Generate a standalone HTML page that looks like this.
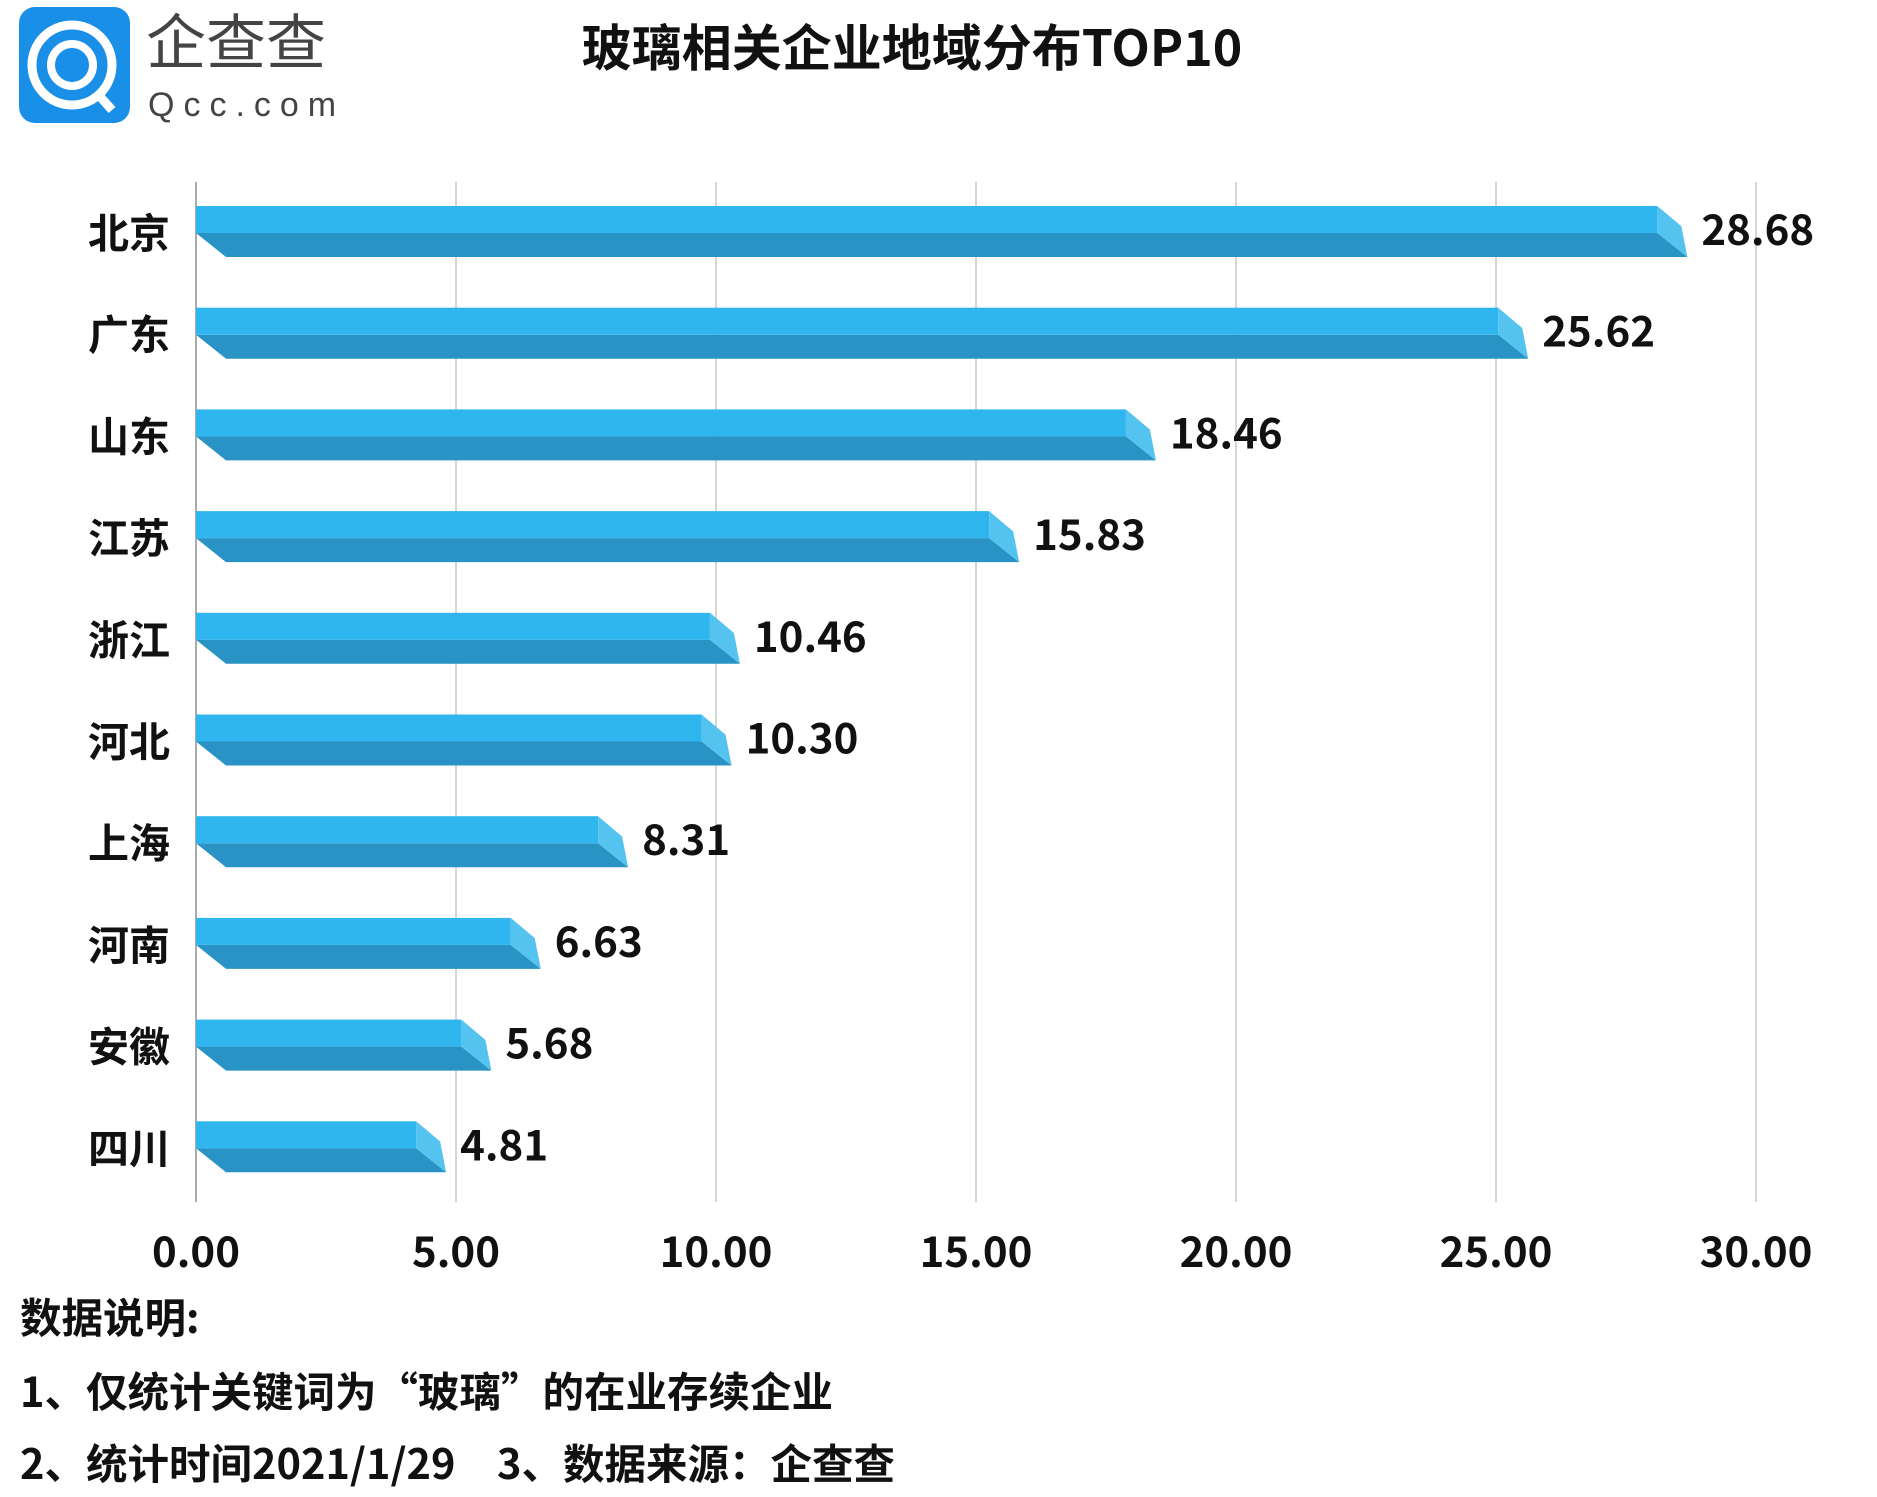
<!DOCTYPE html>
<html><head><meta charset="utf-8"><style>
body{margin:0;background:#fff;}
svg text{font-family:"Noto Sans CJK SC","Liberation Sans",sans-serif;font-weight:bold;fill:#111;}
</style></head><body>
<svg width="1877" height="1492" viewBox="0 0 1877 1492">
<g>
<rect x="19" y="7" width="111" height="116" rx="16" fill="#1a8fe8"/>
<circle cx="72" cy="65" r="40" fill="none" stroke="#fff" stroke-width="9"/>
<circle cx="72" cy="65" r="21" fill="none" stroke="#fff" stroke-width="8"/>
<line x1="96" y1="92" x2="112" y2="110" stroke="#fff" stroke-width="9"/>
<text x="146" y="64" font-size="60" style="font-weight:normal;fill:#444">企查查</text>
<text x="148" y="116" font-size="34" letter-spacing="9" style="font-weight:normal;fill:#444;font-family:'Liberation Sans',sans-serif">Qcc.com</text>
</g>
<text x="912" y="66" font-size="50" text-anchor="middle">玻璃相关企业地域分布TOP10</text>
<g id="grid"></g><g id="bars"></g><g id="ticks"></g>
<g font-size="41.5">
<text x="20" y="1333">数据说明:</text>
<text x="20" y="1407">1、仅统计关键词为“玻璃”的在业存续企业</text>
<text x="20" y="1479">2、统计时间2021/1/29　3、数据来源：企查查</text>
</g>
</svg>
<script>
const categories=["北京","广东","山东","江苏","浙江","河北","上海","河南","安徽","四川"];
const values=[28.68,25.62,18.46,15.83,10.46,10.30,8.31,6.63,5.68,4.81];
const tickValues=[0,5,10,15,20,25,30];
const tickLabels=["0.00","5.00","10.00","15.00","20.00","25.00","30.00"];
const NS="http://www.w3.org/2000/svg";
const x0=196,x1=1756,xmax=30,yTop=206,rowH=101.7;
const xs=v=>x0+v/xmax*(x1-x0);
function mk(t,a,p){const e=document.createElementNS(NS,t);for(const k in a)e.setAttribute(k,a[k]);p.appendChild(e);return e;}
const grid=document.getElementById('grid'),bars=document.getElementById('bars'),ticks=document.getElementById('ticks');
tickValues.forEach((v,i)=>{
 const l=mk('line',{x1:xs(v),x2:xs(v),y1:182,y2:1202,stroke:v===0?'#aaa':'#d6d6d6','stroke-width':2},grid);
 
 
 const t=mk('text',{x:xs(v),y:1267,'font-size':42,'text-anchor':'middle'},ticks);
 t.textContent=tickLabels[i];
 
 
});
categories.forEach((c,i)=>{
 const y=yTop+i*rowH,xe=xs(values[i]),d=30,h1=27,h2=24;
 const g=mk('g',{},bars);
 
 
 mk('polygon',{points:`${x0},${y+h1} ${xe-d},${y+h1} ${xe},${y+h1+h2} ${x0+d},${y+h1+h2}`,fill:'#2893c4'},g);
 mk('rect',{x:x0,y:y,width:Math.max(0,xe-d-x0),height:h1,fill:'#2fb6ee'},g);
 mk('polygon',{points:`${xe-d},${y} ${xe-6},${y+h1*0.75} ${xe},${y+h1+h2} ${xe-d},${y+h1}`,fill:'#55c3ef'},g);
 const lab=mk('text',{x:xe+14,y:y+39,'font-size':42},bars);
 lab.textContent=values[i].toFixed(2);
 
 
 const cl=mk('text',{x:170,y:y+42,'font-size':41,'text-anchor':'end'},bars);
 cl.textContent=c;
 
 
});
</script>
</body></html>
